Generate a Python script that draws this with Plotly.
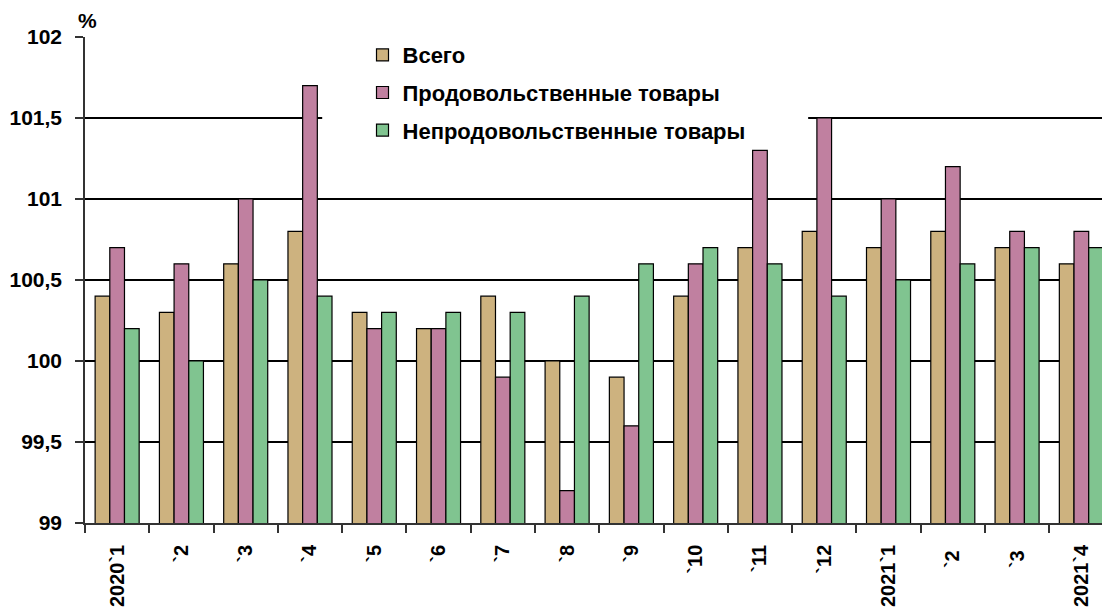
import plotly.graph_objects as go

categories = ["2020`1", "`2", "`3", "`4", "`5", "`6", "`7", "`8", "`9", "`10",
              "`11", "`12", "2021`1", "`2 ", "`3 ", "2021`4"]
total = [100.4, 100.3, 100.6, 100.8, 100.3, 100.2, 100.4, 100.0, 99.9, 100.4,
         100.7, 100.8, 100.7, 100.8, 100.7, 100.6]
food = [100.7, 100.6, 101.0, 101.7, 100.2, 100.2, 99.9, 99.2, 99.6, 100.6,
        101.3, 101.5, 101.0, 101.2, 100.8, 100.8]
nonfood = [100.2, 100.0, 100.5, 100.4, 100.3, 100.3, 100.3, 100.4, 100.6, 100.7,
           100.6, 100.4, 100.5, 100.6, 100.7, 100.7]
series_names = ["Всего", "Продовольственные товары", "Непродовольственные товары"]
colors = ["#CDB27F", "#C080A0", "#80C490"]
y_ticks = [99, 99.5, 100, 100.5, 101, 101.5, 102]
y_ticktext = ["99", "99,5", "100", "100,5", "101", "101,5", "102"]

fig = go.Figure()
for name, vals, col in zip(series_names, [total, food, nonfood], colors):
    fig.add_trace(go.Bar(
        x=categories, y=vals, name=name, legendgroup=name,
        marker=dict(color=col, line=dict(color="black", width=1.2)),
    ))

FONT = "Liberation Sans, Arial, sans-serif"

# page body has an 8px margin, so the figure is shifted by 8px
fig.update_layout(
    width=1102, height=600,
    margin=dict(l=75, r=1, t=29, b=83),
    paper_bgcolor="white", plot_bgcolor="white",
    barmode="group", bargap=0.315, bargroupgap=0,
    font=dict(family=FONT, color="black"),
    showlegend=True,
    legend=dict(
        x=0.271, y=1.006, xanchor="left", yanchor="top",
        bgcolor="rgba(0,0,0,0)", borderwidth=0,
        font=dict(family=FONT, size=22, color="black", weight="bold"),
        tracegroupgap=6,
    ),
    xaxis=dict(
        type="category", range=[-0.5, 15.43],
        tickangle=-90, tickson="boundaries", ticks="outside", ticklen=8,
        tickcolor="#333", tickwidth=1.5, ticklabelstandoff=12,
        showline=True, linecolor="#333", linewidth=1.5,
        showgrid=False,
        tickfont=dict(family=FONT, size=20, color="black", weight="bold"),
    ),
    yaxis=dict(
        range=[99, 102], tickvals=y_ticks, ticktext=y_ticktext,
        ticks="outside", ticklen=8, tickcolor="#333", tickwidth=1.5,
        ticklabelstandoff=9,
        showline=True, linecolor="#333", linewidth=1.5,
        showgrid=True, gridcolor="black", gridwidth=1.5,
        zeroline=False,
        tickfont=dict(family=FONT, size=21, color="black", weight="bold"),
    ),
    shapes=[dict(
        type="rect", xref="x", yref="y", layer="between",
        x0=3.19, x1=10.75, y0=101.31, y1=101.99,
        fillcolor="white", line=dict(width=0),
    )],
    annotations=[dict(
        text="%", xref="paper", yref="paper", x=0, y=1, xanchor="left",
        yanchor="bottom", xshift=-9, yshift=3, showarrow=False,
        font=dict(family=FONT, size=21, color="black", weight="bold"),
    )],
)

fig.write_html("out.html")
